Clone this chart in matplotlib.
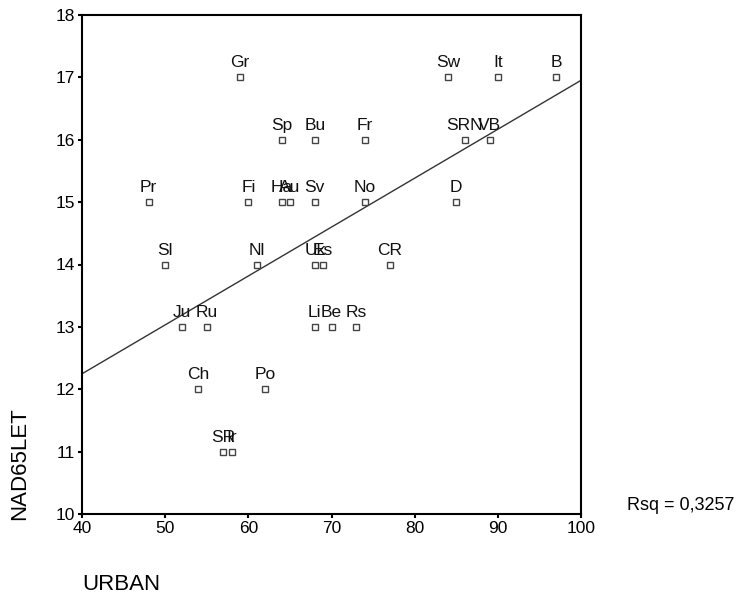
import matplotlib.pyplot as plt
import numpy as np

plt.rcParams['font.family'] = ['Liberation Sans', 'DejaVu Sans']

labels = ['Gr', 'Sw', 'It', 'B', 'Sp', 'Bu', 'Fr', 'SRN', 'VB',
          'Pr', 'Fi', 'Ha', 'Au', 'Sv', 'No', 'D',
          'Sl', 'Nl', 'Uk', 'Es', 'CR',
          'Ju', 'Ru', 'Li', 'Be', 'Rs',
          'Ch', 'Po', 'SR', 'Ir']
urban = [59, 84, 90, 97, 64, 68, 74, 86, 89,
         48, 60, 64, 65, 68, 74, 85,
         50, 61, 68, 69, 77,
         52, 55, 68, 70, 73,
         54, 62, 57, 58]
nad65 = [17, 17, 17, 17, 16, 16, 16, 16, 16,
         15, 15, 15, 15, 15, 15, 15,
         14, 14, 14, 14, 14,
         13, 13, 13, 13, 13,
         12, 12, 11, 11]
rsq_text = 'Rsq = 0,3257'

x = np.array(urban, dtype=float)
y = np.array(nad65, dtype=float)

fig = plt.figure(figsize=(7.38, 5.97), dpi=100)
ax = fig.add_axes([82/738, 1-514/597, (581-82)/738, (514-15)/597])

ax.plot(x, y, 's', ms=5, mfc='white', mec='#444444', mew=1.0, zorder=3)
for lab, xi, yi in zip(labels, x, y):
    ax.annotate(lab, (xi, yi), xytext=(0, 5), textcoords='offset points',
                ha='center', va='bottom', fontsize=12.5, color='#111111')

# linear fit
b, a = np.polyfit(x, y, 1)
xl = np.array([40, 100])
ax.plot(xl, a + b*xl, color='#333333', lw=1.0, zorder=2)

ax.set_xlim(40, 100)
ax.set_ylim(10, 18)
ax.set_xticks([40, 50, 60, 70, 80, 90, 100])
ax.set_yticks(range(10, 19))
ax.tick_params(direction='out', length=3, width=1.5, labelsize=12.5, pad=2)
for s in ax.spines.values():
    s.set_linewidth(1.5)

fig.text(20/738, 1-520/597, 'NAD65LET', rotation=90, ha='center', va='bottom', fontsize=16)
fig.text(82/738, 1-585/597, 'URBAN', ha='left', va='center', fontsize=16)
fig.text(627/738, 1-505/597, rsq_text, ha='left', va='center', fontsize=13)

fig.savefig('out.png', dpi=100)
